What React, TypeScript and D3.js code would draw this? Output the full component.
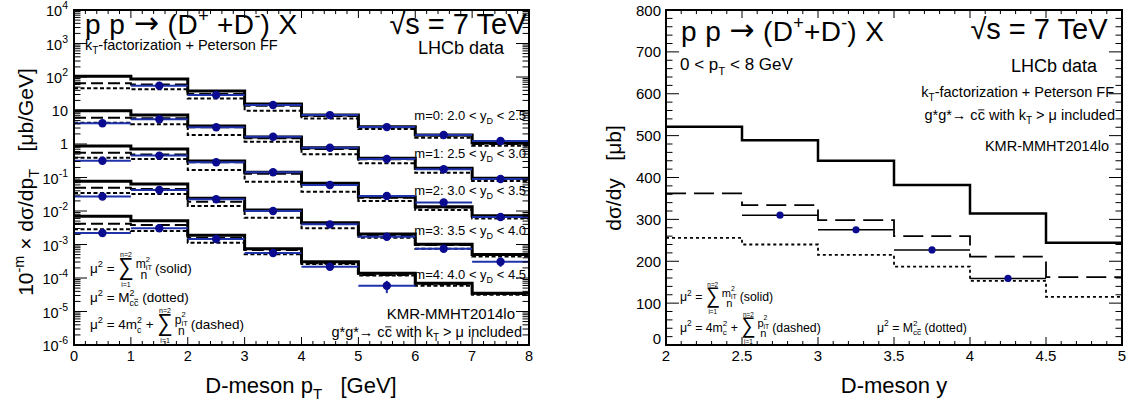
import React from 'react';
import * as d3 from 'd3';

const FONT = '"Liberation Sans", Arial, Helvetica, sans-serif';

// ---------------- Left panel data: dσ/dpT [μb/GeV] (before 10^-m scaling) ----------------
const PT_EDGES = [0, 1, 2, 3, 4, 5, 6, 7, 8];
const PT_CENTERS = [0.5, 1.5, 2.5, 3.5, 4.5, 5.5, 6.5, 7.5];
const M_VALUES = [0, 1, 2, 3, 4];
const YD_LOW = ['2.0', '2.5', '3.0', '3.5', '4.0'];
const YD_HIGH = ['2.5', '3.0', '3.5', '4.0', '4.5'];

const SOLID_PT = [
  [105, 87, 38, 15.6, 7.3, 3.3, 1.86, 1.07],
  [98.6, 73.5, 34.4, 16.2, 7.76, 3.74, 1.88, 0.95],
  [87, 71, 31, 14.3, 6.7, 2.67, 1.34, 0.72],
  [77, 64, 23.9, 10.7, 4.48, 2.06, 1.02, 0.5],
  [69.5, 50.9, 18.8, 7.5, 3.07, 1.39, 0.695, 0.349],
];
const DASHED_PT = [
  [65, 60, 31, 13.9, 6.9, 3.2, 1.8, 1.0],
  [61, 58.5, 31.5, 14.8, 7.1, 3.5, 1.8, 0.9],
  [55, 49, 28.4, 13, 6.3, 2.5, 1.28, 0.68],
  [49.3, 45.4, 19, 10, 4.24, 1.92, 0.97, 0.49],
  [41.5, 38.2, 16.0, 6.86, 2.75, 1.23, 0.649, 0.333],
];
const DOTTED_PT = [
  [46, 43, 23, 9.9, 5.8, 2.8, 1.54, 0.89],
  [43.3, 38.7, 18.6, 11.7, 4.93, 2.66, 1.39, 0.79],
  [39, 35.6, 16.7, 7.5, 3.77, 1.99, 1.07, 0.6],
  [34.4, 32.1, 14.1, 6.3, 3.05, 1.6, 0.75, 0.44],
  [28.6, 25.3, 11.3, 5.1, 2.62, 1.19, 0.589, 0.317],
];
const DATA_PT = [
  [null, 55, 29, 14.6, 7.3, 3.2, 1.86, 1.23],
  [41.5, 54.6, 31.5, 16.5, 7.76, 3.56, 1.76, 0.9],
  [31.7, 45, 28.4, 14.3, 6.0, 2.8, 1.8, 0.66],
  [27.1, 42.4, 22.5, 10, 4.0, 1.71, 0.75, 0.307],
  [22.0, 30.5, 14.6, 5.57, 2.17, 0.589, null, null],
];
const DATA_PT_RELERR = [
  [0, 0.08, 0.08, 0.08, 0.08, 0.08, 0.08, 0.12],
  [0.08, 0.08, 0.08, 0.08, 0.08, 0.08, 0.08, 0.1],
  [0.08, 0.08, 0.08, 0.08, 0.08, 0.08, 0.1, 0.12],
  [0.08, 0.08, 0.08, 0.08, 0.08, 0.1, 0.15, 0.3],
  [0.08, 0.08, 0.08, 0.1, 0.2, 0.4, 0, 0],
];
const LOG_DECADES = [-6, -5, -4, -3, -2, -1, 0, 1, 2, 3, 4];

// ---------------- Right panel data: dσ/dy [μb] ----------------
const Y_EDGES = [2, 2.5, 3, 3.5, 4, 4.5, 5];
const SOLID_Y = [521, 489, 440, 382, 314, 244];
const DASHED_Y = [362, 334, 298, 260, 211, 162];
const DOTTED_Y = [256, 240, 215, 187, 153, 115];
const DATA_Y_LO = [2.5, 3.0, 3.5, 4.0];
const DATA_Y_HI = [3.0, 3.5, 4.0, 4.5];
const DATA_Y = [310, 275, 227, 159];
const RIGHT_X_TICKS = [2, 2.5, 3, 3.5, 4, 4.5, 5];
const RIGHT_Y_TICKS = [0, 100, 200, 300, 400, 500, 600, 700, 800];

// ---------------- layout ----------------
const L = { x0: 74, x1: 529, y0: 10, y1: 345 };
const R = { x0: 666, x1: 1122, y0: 10, y1: 345 };
const LABEL_BASELINES = [120, 157.5, 194.5, 235, 279];
const BLUE_M = '#0b0b8f';
const BLUE_L = '#1f32a8';

type Piece =
  | { k: 't'; s: string; fs: number; sh?: number; ff?: string; ls?: number }
  | { k: 'ss'; sup?: string; sub?: string; fs: number; supSh?: number; subSh?: number; subBar?: boolean }
  | { k: 'sum'; fs: number; main: number }
  | { k: 'frac'; num: Piece[]; den: Piece[]; fs: number }
  | { k: 'bar'; s: string; fs: number; sh?: number };

let _ctx: any = null;
function tw(s: string, fs: number, ff?: string): number {
  if (!_ctx) _ctx = document.createElement('canvas').getContext('2d');
  _ctx.font = `${fs}px ${ff || '"Liberation Sans", Arial, sans-serif'}`;
  return _ctx.measureText(s).width;
}

function layout(pieces: Piece[], x: number, y: number, kp: string): { els: any[]; w: number } {
  const els: any[] = [];
  let cx = x;
  pieces.forEach((p, i) => {
    const key = kp + '-' + i;
    if (p.k === 't') {
      const ls = p.ls || 0;
      els.push(
        <text key={key} x={cx} y={y + (p.sh || 0)} fontSize={p.fs} fontFamily={p.ff}
          style={{ whiteSpace: 'pre', letterSpacing: ls ? `${ls}px` : undefined }}>{p.s}</text>
      );
      cx += tw(p.s, p.fs, p.ff) + ls * p.s.length;
    } else if (p.k === 'ss') {
      const wa = p.sup ? tw(p.sup, p.fs) : 0;
      const wb = p.sub ? tw(p.sub, p.fs) : 0;
      if (p.sup) els.push(<text key={key + 'a'} x={cx} y={y + (p.supSh ?? -p.fs * 0.7)} fontSize={p.fs}>{p.sup}</text>);
      if (p.sub) {
        const sy = y + (p.subSh ?? p.fs * 0.45);
        els.push(<text key={key + 'b'} x={cx} y={sy} fontSize={p.fs}>{p.sub}</text>);
        if (p.subBar) {
          const c1 = tw(p.sub.slice(0, 1), p.fs);
          els.push(<line key={key + 'c'} x1={cx + c1 + 0.3} x2={cx + wb - 0.3} y1={sy - p.fs * 0.7} y2={sy - p.fs * 0.7} stroke="#000" strokeWidth={0.8} />);
        }
      }
      cx += Math.max(wa, wb);
    } else if (p.k === 'sum') {
      const bigFs = p.main * 1.6;
      const w = Math.max(tw('\u2211', bigFs), tw('n=2', p.fs));
      const mx = cx + w / 2;
      const by = y + p.main * 0.14;
      els.push(
        <text key={key + 's'} transform={`translate(${mx},${by}) scale(1,1.15)`} x={0} y={0} fontSize={bigFs} textAnchor="middle">{'\u2211'}</text>
      );
      els.push(<text key={key + 'u'} x={mx} y={y - p.main * 1.15} fontSize={p.fs} textAnchor="middle">n=2</text>);
      els.push(<text key={key + 'd'} x={mx} y={y + p.main * 1.05} fontSize={p.fs} textAnchor="middle">i=1</text>);
      cx += w + 2;
    } else if (p.k === 'frac') {
      const a = layout(p.num, 0, 0, key + 'm');
      const b = layout(p.den, 0, 0, key + 'm');
      const w = Math.max(a.w, b.w);
      const an = layout(p.num, cx + (w - a.w) / 2, y - p.fs * 0.35, key + 'n');
      const bn = layout(p.den, cx + (w - b.w) / 2, y + p.fs * 0.48, key + 'd');
      els.push(...an.els, ...bn.els);
      cx += w + 3;
    } else if (p.k === 'bar') {
      const w = tw(p.s, p.fs);
      const by = y + (p.sh || 0) - p.fs * 0.7;
      els.push(<text key={key} x={cx} y={y + (p.sh || 0)} fontSize={p.fs}>{p.s}</text>);
      els.push(<line key={key + 'l'} x1={cx + 0.5} x2={cx + w - 0.5} y1={by} y2={by} stroke="#000" strokeWidth={0.9} />);
      cx += w;
    }
  });
  return { els, w: cx - x };
}

function Rich({ pieces, x, y, anchor = 'start', k }: { pieces: Piece[]; x: number; y: number; anchor?: string; k: string }) {
  const w = layout(pieces, 0, 0, k).w;
  const sx = anchor === 'end' ? x - w : anchor === 'middle' ? x - w / 2 : x;
  return <g>{layout(pieces, sx, y, k).els}</g>;
}

function formulaSolid(fs: number): Piece[] {
  return [
    { k: 't', s: '\u03bc', fs },
    { k: 'ss', sup: '2', fs: fs * 0.68, supSh: -fs * 0.42 },
    { k: 't', s: ' = ', fs },
    { k: 'sum', fs: fs * 0.52, main: fs },
    {
      k: 'frac', fs,
      num: [{ k: 't', s: 'm', fs: fs * 0.9 }, { k: 'ss', sup: '2', sub: 'iT', fs: fs * 0.56, supSh: -fs * 0.45, subSh: fs * 0.15 }],
      den: [{ k: 't', s: 'n', fs: fs * 0.9 }],
    },
    { k: 't', s: '(solid)', fs },
  ];
}
function formulaDotted(fs: number): Piece[] {
  return [
    { k: 't', s: '\u03bc', fs },
    { k: 'ss', sup: '2', fs: fs * 0.68, supSh: -fs * 0.42 },
    { k: 't', s: ' = M', fs },
    { k: 'ss', sup: '2', sub: 'cc', subBar: true, fs: fs * 0.66, supSh: -fs * 0.42, subSh: fs * 0.3 },
    { k: 't', s: ' (dotted)', fs },
  ];
}
function formulaDashed(fs: number): Piece[] {
  return [
    { k: 't', s: '\u03bc', fs },
    { k: 'ss', sup: '2', fs: fs * 0.68, supSh: -fs * 0.42 },
    { k: 't', s: ' = 4m', fs },
    { k: 'ss', sup: '2', sub: 'c', fs: fs * 0.66, supSh: -fs * 0.42, subSh: fs * 0.3 },
    { k: 't', s: ' + ', fs },
    { k: 'sum', fs: fs * 0.52, main: fs },
    {
      k: 'frac', fs,
      num: [{ k: 't', s: 'p', fs: fs * 0.9 }, { k: 'ss', sup: '2', sub: 'iT', fs: fs * 0.56, supSh: -fs * 0.55, subSh: fs * 0.12 }],
      den: [{ k: 't', s: 'n', fs: fs * 0.9 }],
    },
    { k: 't', s: '(dashed)', fs },
  ];
}

function titlePieces(space: boolean, ls: number): Piece[] {
  return [
    { k: 't', s: 'p p ', fs: 28, ls },
    { k: 't', s: '\u2192', fs: 30, ff: '"DejaVu Sans", sans-serif', sh: -1, ls },
    { k: 't', s: ' (D', fs: 28, ls },
    { k: 'ss', sup: '+', fs: 18, supSh: -12 },
    { k: 't', s: space ? ' +D' : '+D', fs: 28, ls },
    { k: 'ss', sup: '-', fs: 18, supSh: -12 },
    { k: 't', s: ') X', fs: 28, ls },
  ];
}
const SQRT_S: Piece[] = [{ k: 't', s: '\u221as = 7 TeV', fs: 29 }];
const KT_FACT: Piece[] = [
  { k: 't', s: 'k', fs: 14.5 },
  { k: 'ss', sub: 'T', fs: 10, subSh: 4 },
  { k: 't', s: '-factorization + Peterson FF', fs: 14.5 },
];
const GG_LINE: Piece[] = [
  { k: 't', s: 'g*g*\u2192 c', fs: 14.5 },
  { k: 'bar', s: 'c', fs: 14.5 },
  { k: 't', s: ' with k', fs: 14.5 },
  { k: 'ss', sub: 'T', fs: 10, subSh: 4 },
  { k: 't', s: ' > \u03bc included', fs: 14.5 },
];

const stepPath = (edges: number[], vals: number[], x: any, y: any) =>
  d3.line().curve(d3.curveStepAfter)(edges.map((e, i) => [x(e), y(vals[Math.min(i, vals.length - 1)])]) as any) || '';

export default function App() {
  const xL = d3.scaleLinear().domain([0, 8]).range([L.x0, L.x1]);
  const yL = d3.scaleLog().domain([1e-6, 1e4]).range([L.y1, L.y0]);
  const xR = d3.scaleLinear().domain([2, 5]).range([R.x0, R.x1]);
  const yR = d3.scaleLinear().domain([0, 800]).range([R.y1, R.y0]);

  const ticks: any[] = [];
  d3.range(0, 8.0001, 0.2).forEach((v, i) => {
    const maj = Math.abs(v - Math.round(v)) < 1e-6;
    const len = maj ? 8 : 4;
    const x = xL(v);
    ticks.push(<line key={'lxb' + i} x1={x} x2={x} y1={L.y1} y2={L.y1 - len} />);
    ticks.push(<line key={'lxt' + i} x1={x} x2={x} y1={L.y0} y2={L.y0 + len} />);
  });
  LOG_DECADES.forEach((d) => {
    for (let kk = 1; kk <= 9; kk++) {
      if (d === 4 && kk > 1) break;
      const v = kk * Math.pow(10, d);
      const y = yL(v);
      const len = kk === 1 ? 13 : 6.5;
      ticks.push(<line key={'lyl' + d + '_' + kk} x1={L.x0} x2={L.x0 + len} y1={y} y2={y} />);
      ticks.push(<line key={'lyr' + d + '_' + kk} x1={L.x1} x2={L.x1 - len} y1={y} y2={y} />);
    }
  });
  d3.range(2, 5.0001, 0.1).forEach((v, i) => {
    const maj = Math.abs(v * 2 - Math.round(v * 2)) < 1e-6;
    const len = maj ? 8 : 4;
    const x = xR(v);
    ticks.push(<line key={'rxb' + i} x1={x} x2={x} y1={R.y1} y2={R.y1 - len} />);
    ticks.push(<line key={'rxt' + i} x1={x} x2={x} y1={R.y0} y2={R.y0 + len} />);
  });
  d3.range(0, 800.1, 20).forEach((v, i) => {
    const maj = v % 100 === 0;
    const len = maj ? 13 : 6.5;
    const y = yR(v);
    ticks.push(<line key={'ryl' + i} x1={R.x0} x2={R.x0 + len} y1={y} y2={y} />);
    ticks.push(<line key={'ryr' + i} x1={R.x1} x2={R.x1 - len} y1={y} y2={y} />);
  });

  const leftHists: any[] = [];
  const leftData: any[] = [];
  M_VALUES.forEach((m) => {
    const f = Math.pow(10, -m);
    const sc = (arr: number[]) => arr.map((v) => v * f);
    leftHists.push(<path key={'dot' + m} d={stepPath(PT_EDGES, sc(DOTTED_PT[m]), xL, yL)} fill="none" stroke="#000" strokeWidth={2} strokeDasharray="4 2.5" />);
    leftHists.push(<path key={'das' + m} d={stepPath(PT_EDGES, sc(DASHED_PT[m]), xL, yL)} fill="none" stroke="#000" strokeWidth={2} strokeDasharray="12 5" />);
    leftHists.push(<path key={'sol' + m} d={stepPath(PT_EDGES, sc(SOLID_PT[m]), xL, yL)} fill="none" stroke="#000" strokeWidth={3} />);
    DATA_PT[m].forEach((v, i) => {
      if (v === null) return;
      const val = (v as number) * f;
      const e = DATA_PT_RELERR[m][i];
      const cx = xL(PT_CENTERS[i]);
      const cy = yL(val);
      leftData.push(
        <g key={'dp' + m + '_' + i}>
          <line x1={xL(PT_EDGES[i])} x2={xL(PT_EDGES[i + 1])} y1={cy} y2={cy} stroke={BLUE_L} strokeWidth={2} />
          {e > 0 && <line x1={cx} x2={cx} y1={yL(val * (1 + e))} y2={yL(val * (1 - e))} stroke={BLUE_L} strokeWidth={2} />}
          <circle cx={cx} cy={cy} r={4.2} fill={BLUE_M} />
        </g>
      );
    });
  });

  const leftYLabels = LOG_DECADES.map((d) => {
    const y = yL(Math.pow(10, d));
    if (d === 0) return <text key={'ly' + d} x={68} y={y + 5} fontSize={14.5} textAnchor="end">1</text>;
    if (d === 1) return <text key={'ly' + d} x={68} y={y + 5} fontSize={14.5} textAnchor="end">10</text>;
    const sup = String(d);
    return (
      <Rich key={'ly' + d} k={'lyr' + d} x={68} y={y + 6} anchor="end"
        pieces={[{ k: 't', s: '10', fs: 14.5 }, { k: 'ss', sup, fs: 10.5, supSh: -7 }]} />
    );
  });

  return (
    <svg width={1127} height={409} style={{ position: 'absolute', left: 0, top: 0, background: '#fff' }} fontFamily={FONT}>
      <rect x={0} y={0} width={1127} height={409} fill="#fff" />
      {/* ---------- LEFT PANEL ---------- */}
      <g>{leftHists}</g>
      <g>{leftData}</g>
      <g stroke="#000" strokeWidth={1}>{ticks}</g>
      <rect x={L.x0} y={L.y0} width={L.x1 - L.x0} height={L.y1 - L.y0} fill="none" stroke="#000" strokeWidth={2} />
      {PT_EDGES.map((v) => (
        <text key={'lx' + v} x={xL(v)} y={361} fontSize={14.5} textAnchor="middle">{v}</text>
      ))}
      {leftYLabels}
      <Rich k="lt" x={85} y={34} pieces={titlePieces(true, 0.5)} />
      <Rich k="ls" x={527} y={34} anchor="end" pieces={SQRT_S} />
      <Rich k="lk" x={85} y={50} pieces={KT_FACT} />
      <text x={504} y={54} fontSize={18} textAnchor="end">LHCb data</text>
      {M_VALUES.map((m) => (
        <Rich key={'ml' + m} k={'ml' + m} x={526} y={LABEL_BASELINES[m]} anchor="end"
          pieces={[
            { k: 't', s: `m=${m}: ${YD_LOW[m]} < y`, fs: 13 },
            { k: 'ss', sub: 'D', fs: 9, subSh: 4 },
            { k: 't', s: ` < ${YD_HIGH[m]}`, fs: 13 },
          ]} />
      ))}
      <Rich k="lf1" x={90} y={273} pieces={formulaSolid(13.5)} />
      <Rich k="lf2" x={90} y={301.5} pieces={formulaDotted(13.5)} />
      <Rich k="lf3" x={90} y={329} pieces={formulaDashed(13.5)} />
      <text x={515} y={319} fontSize={15} textAnchor="end">KMR-MMHT2014lo</text>
      <Rich k="lg" x={522} y={337} anchor="end" pieces={GG_LINE} />
      <Rich k="lxt" x={301} y={393} anchor="middle"
        pieces={[{ k: 't', s: 'D-meson p', fs: 22 }, { k: 'ss', sub: 'T', fs: 15, subSh: 6 }, { k: 't', s: '   [GeV]', fs: 22 }]} />
      <g transform="translate(33,182) rotate(-90)">
        <Rich k="lyt" x={0} y={0} anchor="middle"
          pieces={[
            { k: 't', s: '10', fs: 21 },
            { k: 'ss', sup: '-m', fs: 14.5, supSh: -9 },
            { k: 't', s: ' \u00d7 d\u03c3/dp', fs: 21 },
            { k: 'ss', sub: 'T', fs: 14.5, subSh: 6 },
            { k: 't', s: '   [\u03bcb/GeV]', fs: 21 },
          ]} />
      </g>

      {/* ---------- RIGHT PANEL ---------- */}
      <path d={stepPath(Y_EDGES, DOTTED_Y, xR, yR)} fill="none" stroke="#000" strokeWidth={1.8} strokeDasharray="3 3" />
      <path d={stepPath(Y_EDGES, DASHED_Y, xR, yR)} fill="none" stroke="#000" strokeWidth={1.8} strokeDasharray="20 8" />
      <path d={stepPath(Y_EDGES, SOLID_Y, xR, yR)} fill="none" stroke="#000" strokeWidth={2.5} />
      {DATA_Y.map((v, i) => (
        <g key={'ry' + i}>
          <line x1={xR(DATA_Y_LO[i])} x2={xR(DATA_Y_HI[i])} y1={yR(v)} y2={yR(v)} stroke="#000" strokeWidth={1.5} />
          <circle cx={xR((DATA_Y_LO[i] + DATA_Y_HI[i]) / 2)} cy={yR(v)} r={3.6} fill={BLUE_M} />
        </g>
      ))}
      <rect x={R.x0} y={R.y0} width={R.x1 - R.x0} height={R.y1 - R.y0} fill="none" stroke="#000" strokeWidth={2} />
      {RIGHT_X_TICKS.map((v) => (
        <text key={'rx' + v} x={xR(v)} y={361} fontSize={15} textAnchor="middle">{String(v)}</text>
      ))}
      {RIGHT_Y_TICKS.map((v) => (
        <text key={'ryl' + v} x={661} y={yR(v) + (v === 0 ? -1 : 5.5)} fontSize={15} textAnchor="end">{String(v)}</text>
      ))}
      <Rich k="rt" x={681} y={41} pieces={titlePieces(false, 0.4)} />
      <Rich k="rs" x={1108} y={39} anchor="end" pieces={SQRT_S} />
      <Rich k="rp" x={680} y={70} pieces={[{ k: 't', s: '0 < p', fs: 17 }, { k: 'ss', sub: 'T', fs: 11.5, subSh: 5 }, { k: 't', s: ' < 8 GeV', fs: 17 }]} />
      <text x={1097} y={72} fontSize={18} textAnchor="end">LHCb data</text>
      <Rich k="rk" x={1114} y={97} anchor="end" pieces={KT_FACT} />
      <Rich k="rg" x={1115} y={120} anchor="end" pieces={GG_LINE} />
      <text x={1109} y={151} fontSize={14.5} textAnchor="end">KMR-MMHT2014lo</text>
      <Rich k="rf1" x={680} y={301} pieces={formulaSolid(12.3)} />
      <Rich k="rf2" x={680} y={331.5} pieces={formulaDashed(12.3)} />
      <Rich k="rf3" x={877} y={331.5} pieces={formulaDotted(12.3)} />
      <text x={894} y={393} fontSize={22} textAnchor="middle">D-meson y</text>
      <g transform="translate(621,178) rotate(-90)">
        <text x={0} y={0} fontSize={21} textAnchor="middle" style={{ whiteSpace: 'pre' }}>{'d\u03c3/dy   [\u03bcb]'}</text>
      </g>
    </svg>
  );
}
